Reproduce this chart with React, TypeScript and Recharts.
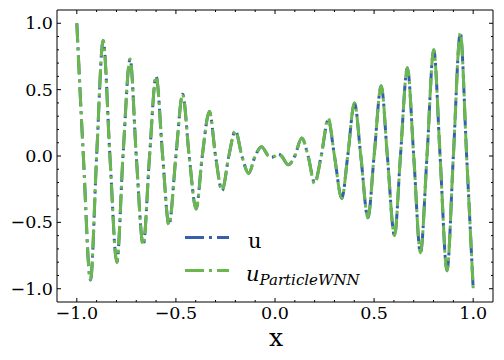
import React from 'react';
import { LineChart, Line, XAxis, YAxis, Legend } from 'recharts';

// sample positions (extrema and zero crossings)
const xs = [
  -1.0, -0.967, -0.931, -0.9, -0.867, -0.833, -0.798, -0.767, -0.731, -0.7,
  -0.665, -0.633, -0.6, -0.567, -0.535, -0.5, -0.466, -0.433, -0.398, -0.367,
  -0.331, -0.3, -0.267, -0.233, -0.2, -0.167, -0.133, -0.1, -0.068, -0.033,
  -0.017, 0, 0.017, 0.033, 0.067, 0.1, 0.135, 0.167, 0.2, 0.233,
  0.269, 0.3, 0.337, 0.367, 0.401, 0.433, 0.469, 0.5, 0.536, 0.567,
  0.603, 0.633, 0.668, 0.7, 0.734, 0.767, 0.801, 0.833, 0.868, 0.9,
  0.935, 0.967, 1.0,
];

const uVals = [
  1.0, 0, -0.935, 0, 0.87, 0, -0.8, 0, 0.73, 0,
  -0.67, 0, 0.6, 0, -0.52, 0, 0.465, 0, -0.4, 0,
  0.335, 0, -0.26, 0, 0.19, 0, -0.13, 0, 0.07, 0,
  -0.01, 0, 0.015, 0, -0.066, 0, 0.135, 0, -0.2, 0,
  0.27, 0, -0.32, 0, 0.4, 0, -0.465, 0, 0.53, 0,
  -0.6, 0, 0.665, 0, -0.73, 0, 0.8, 0, -0.865, 0,
  0.925, 0, -1.0,
];

const predVals = [
  1.0, 0, -0.93, 0, 0.87, 0, -0.8, 0, 0.73, 0,
  -0.67, 0, 0.6, 0, -0.52, 0, 0.465, 0, -0.4, 0,
  0.335, 0, -0.26, 0, 0.19, 0, -0.13, 0, 0.07, 0,
  -0.01, 0, 0.015, 0, -0.066, 0, 0.135, 0, -0.21, 0,
  0.285, 0, -0.32, 0, 0.4, 0, -0.465, 0, 0.53, 0,
  -0.6, 0, 0.665, 0, -0.73, 0, 0.8, 0, -0.865, 0,
  0.925, 0, -1.0,
];

const xTicks = [-1.0, -0.9, -0.8, -0.7, -0.6, -0.5, -0.4, -0.3, -0.2, -0.1, 0, 0.1, 0.2, 0.3, 0.4, 0.5, 0.6, 0.7, 0.8, 0.9, 1.0];
const yTicks = [-1.0, -0.9, -0.8, -0.7, -0.6, -0.5, -0.4, -0.3, -0.2, -0.1, 0, 0.1, 0.2, 0.3, 0.4, 0.5, 0.6, 0.7, 0.8, 0.9, 1.0];

const data = xs.map((x, i) => ({ x, u: uVals[i], pred: predVals[i] }));

const BLUE = '#3661aa';
const GREEN = '#6ab84d';
const DASH = '19 5 3 5';
const FONT = '"DejaVu Serif", serif';

const isMajor = (v: number) => Math.abs(v * 2 - Math.round(v * 2)) < 1e-6;
const fmt = (v: number) => {
  const s = Math.abs(v).toFixed(1);
  return v < -1e-9 ? '\u2212' + s : s;
};

const BottomTick = ({ x, y, payload }: any) => {
  const major = isMajor(payload.value);
  return (
    <g>
      <line x1={x} x2={x} y1={y} y2={y - (major ? 4 : 2)} stroke="#000" />
      {major && (
        <text x={x} y={y + 17} textAnchor="middle" fontFamily={FONT} fontSize={17.5} fill="#000">
          {fmt(payload.value)}
        </text>
      )}
    </g>
  );
};

const TopTick = ({ x, y, payload }: any) => (
  <line x1={x} x2={x} y1={y} y2={y + (isMajor(payload.value) ? 4 : 2)} stroke="#000" />
);

const LeftTick = ({ x, y, payload }: any) => {
  const major = isMajor(payload.value);
  return (
    <g>
      <line x1={x} x2={x + (major ? 4 : 2)} y1={y} y2={y} stroke="#000" />
      {major && (
        <text x={x - 4} y={y + 6} textAnchor="end" fontFamily={FONT} fontSize={17.5} fill="#000">
          {fmt(payload.value)}
        </text>
      )}
    </g>
  );
};

const RightTick = ({ x, y, payload }: any) => (
  <line x1={x} x2={x - (isMajor(payload.value) ? 4 : 2)} y1={y} y2={y} stroke="#000" />
);

const LegendBox = () => (
  <svg width={504} height={360} style={{ position: 'absolute', left: 0, top: 0 }}>
    <line x1={185} x2={229} y1={237.5} y2={237.5} stroke={BLUE} strokeWidth={3} strokeDasharray={DASH} />
    <text x={248} y={248} fontFamily={FONT} fontSize={21} fill="#000">u</text>
    <line x1={185} x2={229} y1={270.5} y2={270.5} stroke={GREEN} strokeWidth={3} strokeDasharray={DASH} />
    <text x={246} y={281} fontFamily={FONT} fontStyle="italic" fontSize={21} fill="#000">
      u
      <tspan dy={4} fontSize={15}>ParticleWNN</tspan>
    </text>
  </svg>
);

export default function App() {
  return (
    <div style={{ position: 'absolute', left: 0, top: 0, width: 504, height: 360, background: '#fff' }}>
      <LineChart width={504} height={360} data={data} margin={{ top: 0, right: 0, bottom: 0, left: 7 }}>
        <XAxis
          dataKey="x"
          type="number"
          domain={[-1.1, 1.1]}
          ticks={xTicks}
          interval={0}
          allowDataOverflow
          height={58}
          tickSize={0}
          tickMargin={0}
          tickLine={false}
          tick={<BottomTick />}
          axisLine={{ stroke: '#000' }}
          label={{
            content: ({ viewBox }: any) => (
              <text x={viewBox.x + viewBox.width / 2 + 1} y={viewBox.y + 44} textAnchor="middle" fontFamily={FONT} fontSize={25} fill="#000">
                x
              </text>
            ),
          }}
        />
        <XAxis
          xAxisId="top"
          orientation="top"
          dataKey="x"
          type="number"
          domain={[-1.1, 1.1]}
          ticks={xTicks}
          interval={0}
          allowDataOverflow
          height={10}
          tickSize={0}
          tickMargin={0}
          tickLine={false}
          tick={<TopTick />}
          axisLine={{ stroke: '#000' }}
        />
        <YAxis
          type="number"
          domain={[-1.1, 1.1]}
          ticks={yTicks}
          interval={0}
          allowDataOverflow
          width={50}
          tickSize={0}
          tickMargin={0}
          tickLine={false}
          tick={<LeftTick />}
          axisLine={{ stroke: '#000' }}
        />
        <YAxis
          yAxisId="right"
          orientation="right"
          type="number"
          domain={[-1.1, 1.1]}
          ticks={yTicks}
          interval={0}
          allowDataOverflow
          width={11}
          tickSize={0}
          tickMargin={0}
          tickLine={false}
          tick={<RightTick />}
          axisLine={{ stroke: '#000' }}
        />
        <Line
          dataKey="u"
          name="u"
          type="monotone"
          stroke={BLUE}
          strokeWidth={3}
          strokeDasharray={DASH}
          dot={false}
          isAnimationActive={false}
        />
        <Line
          dataKey="pred"
          name="u_ParticleWNN"
          type="monotone"
          stroke={GREEN}
          strokeWidth={3}
          strokeDasharray={DASH}
          dot={false}
          isAnimationActive={false}
        />
        <Legend
          layout="horizontal"
          verticalAlign="middle"
          align="center"
          wrapperStyle={{ position: 'absolute', left: 0, top: 0, width: 504, height: 360, pointerEvents: 'none' }}
          content={() => <LegendBox />}
        />
      </LineChart>
    </div>
  );
}
